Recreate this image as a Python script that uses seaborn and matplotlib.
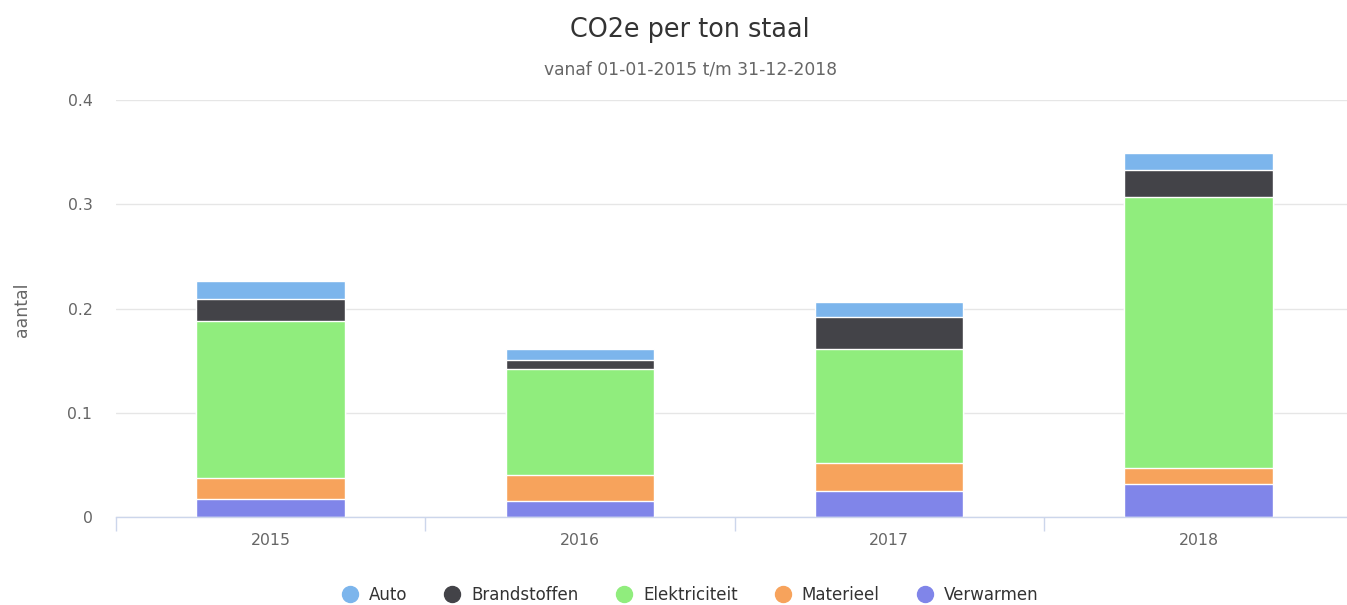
import matplotlib

matplotlib.use("Agg")
import matplotlib.pyplot as plt  # noqa: E402
import numpy as np  # noqa: E402
import pandas as pd  # noqa: E402
import seaborn as sns  # noqa: E402
from matplotlib.lines import Line2D  # noqa: E402

years = ["2015", "2016", "2017", "2018"]
series = ["Auto", "Brandstoffen", "Elektriciteit", "Materieel", "Verwarmen"]
auto = [0.017, 0.0106, 0.0144, 0.0163]
brandstoffen = [0.0216, 0.0089, 0.0314, 0.0265]
elektriciteit = [0.1505, 0.1016, 0.109, 0.2596]
materieel = [0.0195, 0.0247, 0.0263, 0.0154]
verwarmen = [0.018, 0.016, 0.0256, 0.0317]
colors = ["#7cb5ec", "#434348", "#90ed7d", "#f7a35c", "#8085e9"]

values = [auto, brandstoffen, elektriciteit, materieel, verwarmen]
TEXT = "#333333"
MUTED = "#666666"
CX = 690 / 1347  # title/legend centre used by the original chart

sns.set_style("white")
plt.rcParams["font.family"] = ["DejaVu Sans"]

fig = plt.figure(figsize=(13.47, 6.05), dpi=100)
ax = fig.add_axes([116 / 1347, 1 - 517.3 / 605, 1 - 116 / 1347, 417.3 / 605])

# stack by drawing cumulative totals from the top series down
for i, (name, col) in enumerate(zip(series, colors)):
    cum = np.sum(values[i:], axis=0)
    df = pd.DataFrame({"year": years, "value": cum})
    sns.barplot(data=df, x="year", y="value", color=col, width=0.48,
                edgecolor="white", linewidth=1, saturation=1, ax=ax, zorder=3)

ax.set_yticks([0, 0.1, 0.2, 0.3, 0.4])
ax.set_yticklabels(["0", "0.1", "0.2", "0.3", "0.4"])
ax.set_xticks([-0.5, 0.5, 1.5, 2.5, 3.5], minor=True)
ax.set_ylim(0, 0.4)
ax.set_xlim(-0.5, 3.48)
ax.yaxis.grid(True, color="#e6e6e6", linewidth=1)
ax.set_axisbelow(True)
for side in ("top", "right", "left"):
    ax.spines[side].set_visible(False)
ax.spines["bottom"].set_color("#ccd6eb")
ax.spines["bottom"].set_linewidth(1)
ax.spines["bottom"].set_zorder(5)

ax.tick_params(axis="y", length=0, pad=17, labelsize=11.3, labelcolor=MUTED)
ax.tick_params(axis="x", which="major", length=0, pad=11, labelsize=11.3, labelcolor=MUTED)
ax.tick_params(axis="x", which="minor", bottom=True, length=10, width=1,
               color="#ccd6eb", direction="out")
ax.set_xlabel("")
ax.set_ylabel("")

fig.text(22 / 1347, 1 - 310 / 605, "aantal", rotation=90, ha="center", va="center",
         fontsize=12.5, color=MUTED)
fig.text(CX, 1 - 30 / 605, "CO2e per ton staal", ha="center", va="center",
         fontsize=18.4, color=TEXT)
fig.text(CX, 1 - 69 / 605, "vanaf 01-01-2015 t/m 31-12-2018", ha="center", va="center",
         fontsize=12.3, color=MUTED)

handles = [Line2D([0], [0], marker="o", linestyle="none", markersize=11.5,
                  markerfacecolor=c, markeredgecolor=c) for c in colors]
fig.legend(handles, series, loc="center", bbox_to_anchor=(CX, 1 - 595 / 605), ncol=5,
           frameon=False, fontsize=12, labelcolor=TEXT, handletextpad=0.65,
           columnspacing=2.2, handlelength=1.0)

fig.savefig("out.png", dpi=100)
